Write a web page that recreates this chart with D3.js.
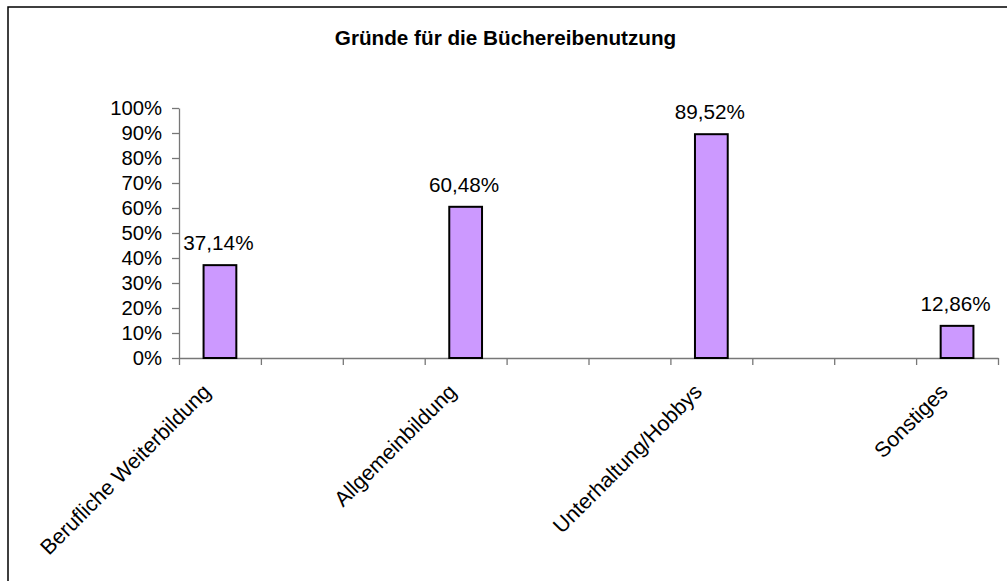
<!DOCTYPE html>
<html>
<head>
<meta charset="utf-8">
<script src="https://cdn.jsdelivr.net/npm/d3@7"></script>
<style>
  html, body { margin: 0; background: #fff; overflow: hidden; }
  svg { display: block; }
  text { font-family: "Liberation Sans", Arial, sans-serif; fill: #000; }
</style>
</head>
<body>
<div class="chart"></div>
<script>
// Gründe für die Büchereibenutzung - bar chart

// data (empty slots are blank categories in the original sheet)
var categories = ["Berufliche Weiterbildung", "", "", "Allgemeinbildung", "", "",
  "Unterhaltung/Hobbys", "", "", "Sonstiges"];
var values = [37.14, null, null, 60.48, null, null, 89.52, null, null, 12.86];
var yTicks = [0, 10, 20, 30, 40, 50, 60, 70, 80, 90, 100];
var title = "Gründe für die Büchereibenutzung";

// svg container
var svgWidth = 1007;
var svgHeight = 581;

var margin = { top: 108, right: 9, bottom: 223, left: 179 };
var chartWidth = svgWidth - margin.left - margin.right;
var chartHeight = svgHeight - margin.top - margin.bottom;

var svg = d3.select(".chart")
  .append("svg")
  .attr("width", svgWidth)
  .attr("height", svgHeight);

// outer frame (cut off at right and bottom like the original)
svg.append("rect")
  .attr("x", 8)
  .attr("y", 7)
  .attr("width", 1010)
  .attr("height", 590)
  .attr("fill", "none")
  .attr("stroke", "#000")
  .attr("stroke-width", 1.5);

// title
svg.append("text")
  .attr("x", 505.5)
  .attr("y", 44.5)
  .attr("text-anchor", "middle")
  .attr("font-size", "20.7px")
  .attr("font-weight", "bold")
  .text(title);

var chartGroup = svg.append("g")
  .attr("transform", `translate(${margin.left}, ${margin.top})`);

var data = categories.map(function (c, i) { return { cat: c, idx: i, value: values[i] }; });

// scales
var xBand = d3.scaleBand()
  .domain(d3.range(categories.length))
  .range([0, chartWidth])
  .padding(0);

var xLinear = d3.scaleLinear()
  .domain([0, categories.length])
  .range([0, chartWidth]);

var yLinearScale = d3.scaleLinear()
  .domain([0, 100])
  .range([chartHeight, 0]);

var de = d3.formatLocale({ decimal: ",", thousands: ".", grouping: [3], currency: ["", " €"] });
var fmt = de.format(".2f");

// axes
var leftAxis = d3.axisLeft(yLinearScale)
  .tickValues(yTicks)
  .tickFormat(function (d) { return d + "%"; })
  .tickSize(7)
  .tickPadding(10)
  .tickSizeOuter(0);

var bottomAxis = d3.axisBottom(xLinear)
  .tickValues(d3.range(categories.length + 1))
  .tickFormat("")
  .tickSize(7)
  .tickSizeOuter(0);

var yAxisG = chartGroup.append("g").call(leftAxis);
yAxisG.selectAll("text")
  .attr("font-size", "20.3px")
  .attr("dy", "0.34em");

var xAxisG = chartGroup.append("g")
  .attr("transform", `translate(0, ${chartHeight})`)
  .call(bottomAxis);

chartGroup.selectAll(".domain, .tick line")
  .attr("stroke", "#777")
  .attr("stroke-width", 1.3);

// bars
var barW = xBand.bandwidth() / 2.5;
var barData = data.filter(function (d) { return d.value !== null; });

chartGroup.append("g").selectAll("rect")
  .data(barData)
  .enter()
  .append("rect")
  .attr("x", function (d) { return xBand(d.idx) + xBand.bandwidth() / 2 - barW / 2; })
  .attr("y", function (d) { return yLinearScale(d.value); })
  .attr("width", barW)
  .attr("height", function (d) { return chartHeight - yLinearScale(d.value); })
  .attr("fill", "#cc99ff")
  .attr("stroke", "#000")
  .attr("stroke-width", 2);

// value labels
chartGroup.append("g").selectAll("text")
  .data(barData)
  .enter()
  .append("text")
  .attr("x", function (d) { return xBand(d.idx) + xBand.bandwidth() / 2 - 1.5; })
  .attr("y", function (d) { return yLinearScale(d.value) - 15; })
  .attr("text-anchor", "middle")
  .attr("font-size", "20.7px")
  .text(function (d) { return fmt(d.value) + "%"; });

// category labels, rotated
chartGroup.append("g").selectAll("text")
  .data(data.filter(function (d) { return d.cat !== ""; }))
  .enter()
  .append("text")
  .attr("transform", function (d) {
    var cx = xBand(d.idx) + xBand.bandwidth() / 2 - 8;
    return `translate(${cx}, ${chartHeight + 35}) rotate(-45)`;
  })
  .attr("text-anchor", "end")
  .attr("font-size", "21.3px")
  .text(function (d) { return d.cat; });
</script>
</body>
</html>
